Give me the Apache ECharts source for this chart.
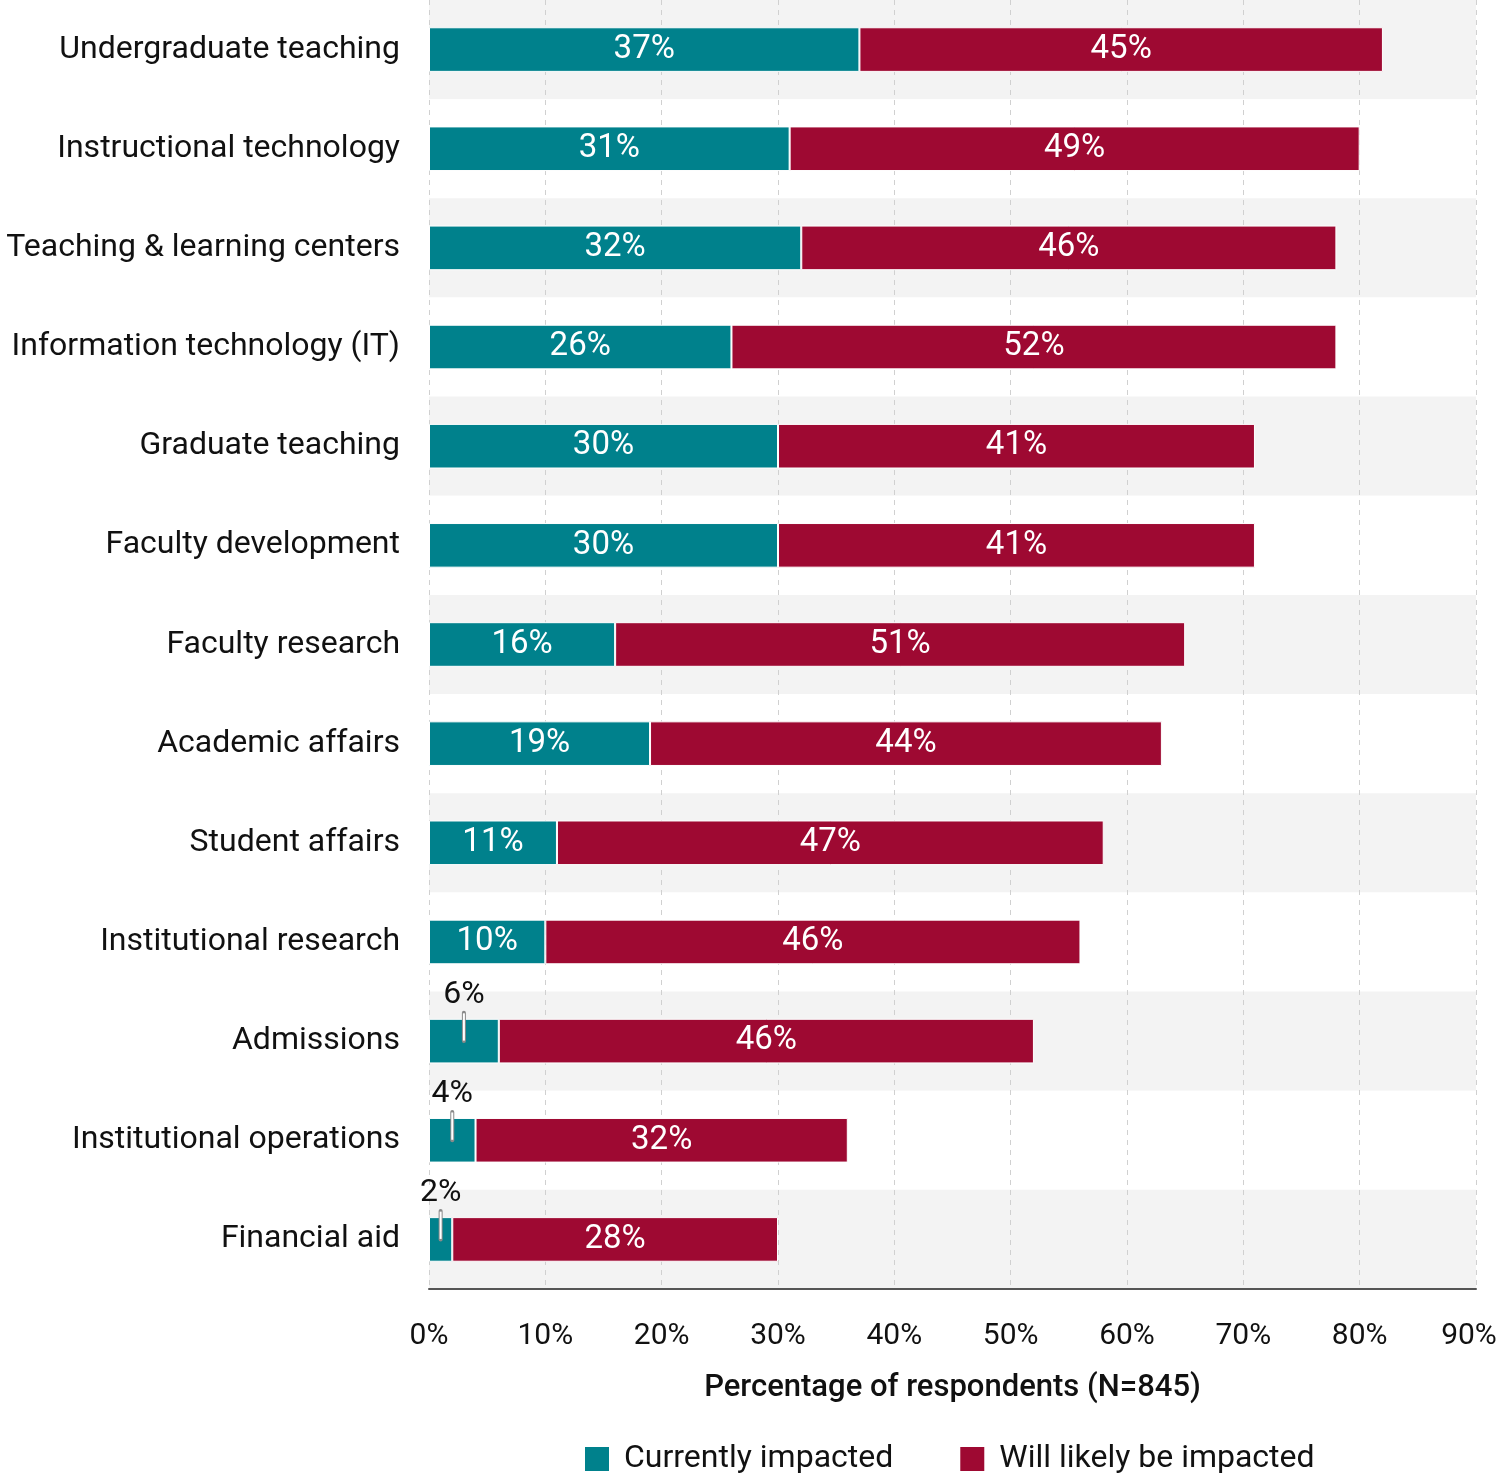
<!DOCTYPE html>
<html>
<head>
<meta charset="utf-8">
<script src="https://cdn.jsdelivr.net/npm/echarts@6/dist/echarts.min.js"></script>
<style>
html,body{margin:0;padding:0;background:#fff;overflow:hidden;}
#chart{width:1500px;height:1476px;}
</style>
</head>
<body>
<div id="chart"></div>
<script>
const categories = ['Undergraduate teaching','Instructional technology','Teaching & learning centers','Information technology (IT)','Graduate teaching','Faculty development','Faculty research','Academic affairs','Student affairs','Institutional research','Admissions','Institutional operations','Financial aid'];
const currentValues = [37,31,32,26,30,30,16,19,11,10,6,4,2];
const likelyValues = [45,49,46,52,41,41,49,44,47,46,46,32,28];
const currentLabels = ['37%','31%','32%','26%','30%','30%','16%','19%','11%','10%','6%','4%','2%'];
const likelyLabels = ['45%','49%','46%','52%','41%','41%','51%','44%','47%','46%','46%','32%','28%'];
const xTicks = [0,10,20,30,40,50,60,70,80,90];
const seriesNames = ['Currently impacted','Will likely be impacted'];

const TEAL = '#00818c';
const RED = '#9e0932';
const FONT = 'Roboto';
const SMALL = 8; // values below this get an outside label

const smallData = [];
currentValues.forEach((v,i)=>{ if (v < SMALL) smallData.push([v, i, currentLabels[i]]); });
const xMax = xTicks[xTicks.length-1];

const chart = echarts.init(document.getElementById('chart'), null, {renderer:'canvas', width:1500, height:1476});
chart.setOption({
  animation:false,
  backgroundColor:'#fff',
  textStyle:{fontFamily:FONT},
  grid:{left:429, width:1047, top:0, height:1289, containLabel:false, outerBoundsMode:'none'},
  legend:{
    data:seriesNames,
    left:583, top:1443, padding:0,
    itemWidth:26, itemHeight:26, itemGap:65,
    icon:'rect',
    textStyle:{fontFamily:FONT, fontSize:32, color:'#111', padding:[0,0,0,9]}
  },
  xAxis:{
    type:'value', min:xTicks[0], max:xMax, interval:10, z:1,
    axisLine:{show:true, lineStyle:{color:'#555', width:2}},
    axisTick:{show:false},
    axisLabel:{
      formatter:v=> v === xMax ? '{last|' + v + '%}' : v + '%',
      rich:{last:{fontFamily:FONT, fontSize:30, color:'#111', padding:[0,14,0,0]}},
      fontFamily:FONT, fontSize:30, color:'#111', margin:32
    },
    splitLine:{show:true, lineStyle:{type:[5,5], color:'#d0d0d0', width:1}},
    name:'Percentage of respondents (N=845)',
    nameLocation:'middle', nameGap:84,
    nameTextStyle:{fontFamily:FONT, fontSize:31, fontWeight:500, color:'#111'}
  },
  yAxis:{
    type:'category', data:categories, inverse:true,
    axisLine:{show:false}, axisTick:{show:false},
    axisLabel:{fontFamily:FONT, fontSize:32, color:'#111', margin:29, padding:[11,0,0,0]},
    splitLine:{show:false},
    splitArea:{show:true, areaStyle:{color:['#f3f3f3','#ffffff']}}
  },
  series:[
    {
      name:seriesNames[0], type:'bar', stack:'s', barWidth:'45%',
      data:currentValues,
      itemStyle:{color:TEAL, borderColor:'#fff', borderWidth:1},
      label:{show:true, position:'inside', color:'#fff', fontFamily:FONT, fontSize:33, padding:[6,0,0,0],
        formatter:p=> currentValues[p.dataIndex] >= SMALL ? currentLabels[p.dataIndex] : ''}
    },
    {
      name:seriesNames[1], type:'bar', stack:'s', barWidth:'45%',
      data:likelyValues,
      itemStyle:{color:RED, borderColor:'#fff', borderWidth:1},
      label:{show:true, position:'inside', color:'#fff', fontFamily:FONT, fontSize:33, padding:[6,0,0,0],
        formatter:p=> likelyLabels[p.dataIndex]}
    },
    {
      name:'smallLabels', type:'custom', z:5, silent:true,
      data:smallData,
      renderItem:function(params, api){
        const v = api.value(0), idx = api.value(1);
        const c = api.coord([v/2, idx]);
        const band = api.size([0,1])[1];
        const half = band*0.45/2;
        const yTop = c[1]-half-6;
        const yBot = c[1];
        return {type:'group', children:[
          {type:'line', shape:{x1:c[0],y1:yTop,x2:c[0],y2:yBot}, style:{stroke:'#8a8a8a', lineWidth:4, lineCap:'round'}},
          {type:'line', shape:{x1:c[0],y1:yTop+0.5,x2:c[0],y2:yBot-0.5}, style:{stroke:'#ffffff', lineWidth:2}},
          {type:'text', x:c[0], y:yTop-2, style:{text:smallData[params.dataIndex][2], fill:'#111', font:'32px '+FONT, textAlign:'center', textVerticalAlign:'bottom'}}
        ]};
      }
    }
  ]
});
</script>
</body>
</html>
